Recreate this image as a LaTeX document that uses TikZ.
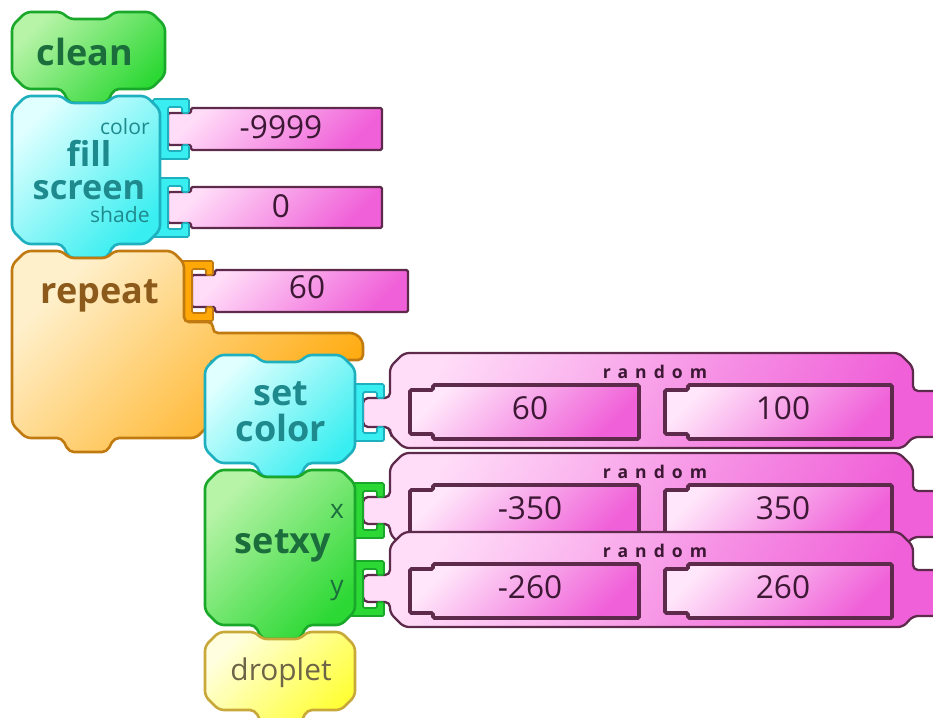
\documentclass[tikz,border=0pt]{standalone}
\usepackage{fontspec}
\setmainfont{Open Sans}
\newfontfamily\spacedfont[LetterSpace=40]{Open Sans}

\definecolor{grnlight}{HTML}{B8F4A8}
\definecolor{grndark}{HTML}{2CD834}
\definecolor{grnline}{HTML}{1AA82A}
\definecolor{grntext}{HTML}{1B6E3C}
\definecolor{cyanlight}{HTML}{E0FFFF}
\definecolor{cyandark}{HTML}{38EEF0}
\definecolor{cyanline}{HTML}{1FB0C0}
\definecolor{cyantext}{HTML}{1F8A8E}
\definecolor{orglight}{HTML}{FFF0CC}
\definecolor{orgdark}{HTML}{FFA808}
\definecolor{orgline}{HTML}{C07A10}
\definecolor{orgtext}{HTML}{8C5A1A}
\definecolor{pnklight}{HTML}{FFDCF8}
\definecolor{pnkdark}{HTML}{F060D8}
\definecolor{pnkline}{HTML}{5E2A4C}
\definecolor{pnktext}{HTML}{3C1834}
\definecolor{slotlight}{HTML}{FFE6FA}
\definecolor{ylwlight}{HTML}{FFFFE0}
\definecolor{ylwdark}{HTML}{FFFF38}
\definecolor{ylwline}{HTML}{C8A838}
\definecolor{ylwtext}{HTML}{6E6448}

\tikzset{
    blockline/.style={
    line width=1.5pt,rounded corners=1mm
    },
    greenblk/.style={
    blockline,draw=grnline,top color=grnlight,bottom color=grndark,shading angle=45
    },
    cyanblk/.style={
    blockline,draw=cyanline,top color=cyanlight,bottom color=cyandark,shading angle=45
    },
    repeatblk/.style={
    blockline,draw=orgline,top color=orglight,bottom color=orgdark,shading angle=45
    },
    yellowblk/.style={
    blockline,draw=ylwline,top color=ylwlight,bottom color=ylwdark,shading angle=45
    },
    valblk/.style={
    line width=1.3pt,rounded corners=0.3mm,draw=pnkline,top color=pnklight,bottom color=pnkdark,shading angle=45
    },
    randblk/.style={
    line width=1.3pt,rounded corners=1mm,draw=pnkline,top color=pnklight,bottom color=pnkdark,shading angle=60
    },
    slot/.style={
    line width=2.2pt,rounded corners=0.3mm,draw=pnkline,top color=slotlight,bottom color=pnkdark,shading angle=45
    },
    cyansock/.style={
    line width=1pt,rounded corners=0.3mm,draw=cyanline,fill=cyandark
    },
    orgsock/.style={
    line width=1pt,rounded corners=0.3mm,draw=orgline,fill=orgdark
    },
    grnsock/.style={
    line width=1pt,rounded corners=0.3mm,draw=grnline,fill=grndark
    },
    bigtxt/.style={
    anchor=base,inner sep=0pt,font=\bfseries\fontsize{20.5}{22}\selectfont
    },
    smalltxt/.style={
    anchor=base east,inner sep=0pt,font=\fontsize{12}{13}\selectfont,text=cyantext
    },
    numtxt/.style={
    anchor=base,inner sep=0pt,font=\fontsize{18}{20}\selectfont,text=pnktext
    },
    randlbl/.style={
    anchor=base,inner sep=0pt,font=\spacedfont\bfseries\fontsize{10}{12}\selectfont,text=pnktext
    },
}

% command block: style, x, y, width, height
\newcommand{\cmdblock}[5]{%
  \draw[#1,shift={(#2,#3)}] (0,14) -- (14,0) -- (50,0) -- (57,7) -- (95,7) -- (102,0)
    -- (#4-14,0) -- (#4,14) -- (#4,#5-14) -- (#4-14,#5) -- (102,#5) -- (95,#5+14)
    -- (57,#5+14) -- (50,#5) -- (14,#5) -- (0,#5-14) -- cycle;}

% socket bracket on a block's right side: style, x, top, bottom
\newcommand{\socket}[4]{%
  \draw[#1] (#2-4,#3-9) -- (#2+32,#3-9) -- (#2+32,#3+5) -- (#2+25,#3+5) -- (#2+25,#3-1)
    -- (#2+11,#3-1) -- (#2+11,#4+1) -- (#2+25,#4+1) -- (#2+25,#4-5) -- (#2+32,#4-5)
    -- (#2+32,#4+9) -- (#2-4,#4+9) -- cycle;}

% value block, notched on the left: style, x1, y1, x2, y2
\newcommand{\valblock}[5]{%
  \draw[#1] (#2,#3+5) -- (#2+23,#3+5) -- (#2+23,#3) -- (#4,#3) -- (#4,#5)
    -- (#2+23,#5) -- (#2+23,#5-5) -- (#2,#5-5) -- cycle;}

% random block: name, top, socket top, socket bottom, low, high
\newcommand{\randblock}[6]{%
  \draw[randblk] (363,#3+5) -- (390,#3+5) -- (390,#2+14) -- (404,#2) -- (899,#2)
    -- (913,#2+14) -- (913,#2+38) -- (940,#2+38) -- (940,#2+84) -- (913,#2+84)
    -- (903,#2+95) -- (404,#2+95) -- (390,#2+81) -- (390,#4-5) -- (363,#4-5) -- cycle;
  \valblock{slot}{410}{#2+32}{639}{#2+86}
  \valblock{slot}{665}{#2+32}{892}{#2+86}
  \node[randlbl] (#1-lbl) at (655,#2+25) {random};
  \node[numtxt] (#1-low) at (530,#2+66) {#5};
  \node[numtxt] (#1-high) at (783,#2+66) {#6};}

\begin{document}
\begin{tikzpicture}[x=0.02cm,y=-0.02cm]
  \useasboundingbox (0,0) rectangle (933,717);

  % number arguments
  \valblock{valblk}{168}{108}{382}{150}
  \valblock{valblk}{168}{187}{382}{228}
  \valblock{valblk}{192}{270}{408}{312}
  \node[numtxt] (color) at (281,138) {-9999};
  \node[numtxt] (shade) at (281,217) {0};
  \node[numtxt] (times) at (307,298) {60};

  % random reporters
  \randblock{r1}{353}{393}{432}{60}{100}
  \randblock{r2}{453}{492}{529}{-350}{350}
  \randblock{r3}{532}{570}{607}{-260}{260}

  % sockets
  \socket{cyansock}{157}{108}{150}
  \socket{cyansock}{157}{187}{228}
  \socket{orgsock}{181}{270}{312}
  \socket{cyansock}{352}{393}{432}
  \socket{grnsock}{352}{492}{529}
  \socket{grnsock}{352}{570}{607}

  % command stack
  \cmdblock{greenblk}{12}{12}{153}{77}
  \cmdblock{cyanblk}{12}{96}{148}{148}
  \draw[repeatblk] (12,265) -- (26,251) -- (62,251) -- (69,258) -- (107,258) -- (114,251)
    -- (172,251) -- (184,263) -- (184,322) -- (213,322) -- (213,333) -- (355,333)
    -- (363,341) -- (363,360) -- (307,360) -- (300,367) -- (262,367) -- (255,360)
    -- (210,360) -- (210,424) -- (196,438) -- (114,438) -- (107,452) -- (69,452)
    -- (62,438) -- (26,438) -- (12,424) -- cycle;
  \cmdblock{cyanblk}{205}{355}{150}{108}
  \cmdblock{greenblk}{205}{470}{150}{155}
  \cmdblock{yellowblk}{205}{632}{150}{78}

  % labels
  \node[bigtxt,text=grntext] (clean) at (85,65) {clean};
  \node[smalltxt] (colorlbl) at (150,134) {color};
  \node[anchor=north,inner sep=0pt,align=center,text=cyantext,
        font=\bfseries\fontsize{19.5}{18.5}\selectfont] (fillscreen) at (89,140) {fill\\screen};
  \node[smalltxt] (shadelbl) at (150,222) {shade};
  \node[bigtxt,text=orgtext] (repeat) at (100,303) {repeat};
  \node[anchor=north,inner sep=0pt,align=center,text=cyantext,
        font=\bfseries\fontsize{20.5}{20.5}\selectfont] (setcolor) at (281,381) {set\\color};
  \node[anchor=base,inner sep=0pt,font=\fontsize{15}{16}\selectfont,text=grntext] (xlbl) at (337,518) {x};
  \node[bigtxt,text=grntext] (setxy) at (283,553) {setxy};
  \node[anchor=base,inner sep=0pt,font=\fontsize{15}{16}\selectfont,text=grntext] (ylbl) at (337,594) {y};
  \node[anchor=base,inner sep=0pt,font=\fontsize{17}{18}\selectfont,text=ylwtext] (droplet) at (281,680) {droplet};
\end{tikzpicture}
\end{document}
